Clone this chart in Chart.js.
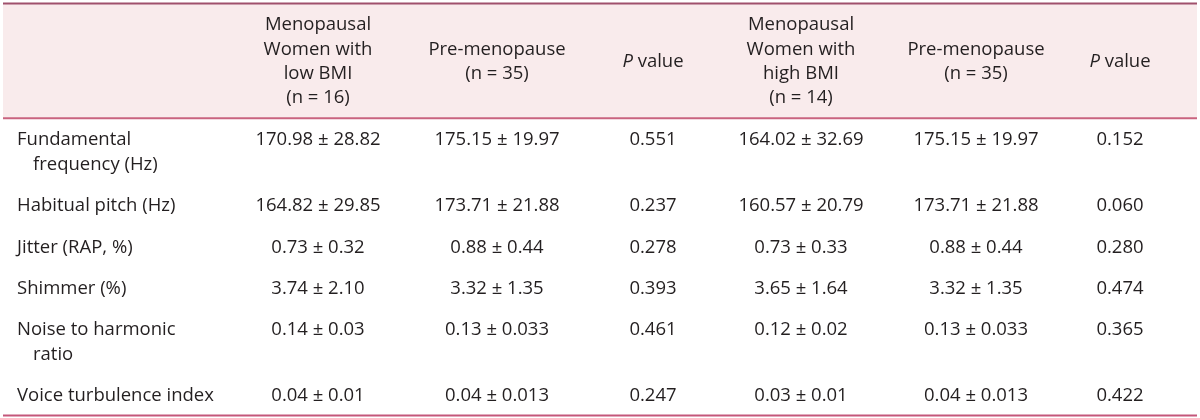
<!DOCTYPE html>
<html>
<head>
<meta charset="utf-8">
<script src="https://cdn.jsdelivr.net/npm/chart.js@4.4.1/dist/chart.umd.min.js"></script>
<style>
  html, body { margin: 0; padding: 0; background: #fff; }
  #wrap { width: 1200px; height: 418px; }
</style>
</head>
<body>
<div id="wrap"><canvas id="voiceTable" width="1200" height="418"></canvas></div>
<script>
/* ==========================
   TABLE CONTENT
========================== */
const columnHeads = [
  [],
  ["Menopausal", "Women with", "low BMI", "(n = 16)"],
  ["Pre-menopause", "(n = 35)"],
  ["P value"],
  ["Menopausal", "Women with", "high BMI", "(n = 14)"],
  ["Pre-menopause", "(n = 35)"],
  ["P value"]
];

const rowLabels = [
  ["Fundamental", "frequency (Hz)"],
  ["Habitual pitch (Hz)"],
  ["Jitter (RAP, %)"],
  ["Shimmer (%)"],
  ["Noise to harmonic", "ratio"],
  ["Voice turbulence index"]
];

const lowBmiMean = ["170.98", "164.82", "0.73", "3.74", "0.14", "0.04"];
const lowBmiSd   = ["28.82", "29.85", "0.32", "2.10", "0.03", "0.01"];
const preMean    = ["175.15", "173.71", "0.88", "3.32", "0.13", "0.04"];
const preSd      = ["19.97", "21.88", "0.44", "1.35", "0.033", "0.013"];
const pLowBmi    = ["0.551", "0.237", "0.278", "0.393", "0.461", "0.247"];
const highBmiMean = ["164.02", "160.57", "0.73", "3.65", "0.12", "0.03"];
const highBmiSd   = ["32.69", "20.79", "0.33", "1.64", "0.02", "0.01"];
const pHighBmi   = ["0.152", "0.060", "0.280", "0.474", "0.365", "0.422"];

/* ==========================
   LAYOUT / STYLE
========================== */
const W = 1200, H = 418;
const FONT_FAMILY = '"Open Sans", "Noto Sans", sans-serif';
const FONT_SIZE = 18.5;
const HEAD_LINE = 24.3;     // header line height
const LINE = 24.8;          // body line height
const TABLE_LEFT = 3, TABLE_RIGHT = 1197;
const colWidths = [227, 176, 182, 130, 166, 184, 104];
const TOP_RULE = 3.5;
const PAD_TOP = 9.5, PAD_BOTTOM = 8;
const ROW_PAD_TOP = 9.5, ROW_PAD_BOTTOM = 7;
const LABEL_INSET = 14, HANG_INDENT = 16;
const TEXT = '#231f20';

// column centres from the widths
const colCenters = [];
let acc = TABLE_LEFT;
colWidths.forEach(w => { colCenters.push(acc + w / 2); acc += w; });

// header height from the tallest header
const headLines = Math.max(...columnHeads.map(h => h.length));
const headBottom = TOP_RULE + PAD_TOP + headLines * HEAD_LINE + PAD_BOTTOM;
const headMid = TOP_RULE + PAD_TOP + headLines * HEAD_LINE / 2;

// first-line centre of each body row
const rowY = [];
let yAcc = headBottom;
rowLabels.forEach(lines => {
  rowY.push(yAcc + ROW_PAD_TOP + LINE / 2);
  yAcc += ROW_PAD_TOP + ROW_PAD_BOTTOM + lines.length * LINE;
});
const tableBottom = yAcc;

const pm = (m, s) => m.map((v, i) => `${v} ± ${s[i]}`);
const bodyColumns = [
  pm(lowBmiMean, lowBmiSd),
  pm(preMean, preSd),
  pLowBmi,
  pm(highBmiMean, highBmiSd),
  pm(preMean, preSd),
  pHighBmi
];

const datasets = bodyColumns.map((cells, c) => ({
  label: 'col' + (c + 1),
  cells: cells,
  data: cells.map((_, r) => ({ x: colCenters[c + 1], y: rowY[r] })),
  pointRadius: 0,
  showLine: false
}));

/* ==========================
   DRAW THE TABLE
========================== */
function font(style) {
  return `${style || ''} ${FONT_SIZE}px ${FONT_FAMILY}`;
}

function drawPValue(ctx, cx, cy) {
  ctx.font = font('italic');
  const wp = ctx.measureText('P').width;
  ctx.font = font();
  const wr = ctx.measureText(' value').width;
  const x0 = cx - (wp + wr) / 2;
  ctx.textAlign = 'left';
  ctx.font = font('italic');
  ctx.fillText('P', x0, cy);
  ctx.font = font();
  ctx.fillText(' value', x0 + wp, cy);
}

const tablePlugin = {
  id: 'tablePlugin',
  beforeDatasetsDraw(chart) {
    const ctx = chart.ctx;
    const xs = chart.scales.x, ys = chart.scales.y;
    const left = xs.getPixelForValue(TABLE_LEFT);
    const right = xs.getPixelForValue(TABLE_RIGHT);
    const top = ys.getPixelForValue(TOP_RULE);
    const hb = ys.getPixelForValue(headBottom);
    const bottom = ys.getPixelForValue(tableBottom);

    ctx.save();
    ctx.fillStyle = '#f9ebec';
    ctx.fillRect(left, top, right - left, hb - top);

    ctx.lineWidth = 2;
    ctx.strokeStyle = '#a0506c';
    ctx.beginPath(); ctx.moveTo(left, top); ctx.lineTo(right, top); ctx.stroke();
    ctx.strokeStyle = '#c9637f';
    ctx.beginPath(); ctx.moveTo(left, hb); ctx.lineTo(right, hb); ctx.stroke();
    ctx.strokeStyle = '#c4567a';
    ctx.beginPath(); ctx.moveTo(left, bottom); ctx.lineTo(right, bottom); ctx.stroke();

    // header
    ctx.fillStyle = TEXT;
    ctx.textBaseline = 'middle';
    columnHeads.forEach((lines, c) => {
      const cx = xs.getPixelForValue(colCenters[c]);
      lines.forEach((txt, i) => {
        const cy = ys.getPixelForValue(headMid + (i - (lines.length - 1) / 2) * HEAD_LINE);
        if (txt === 'P value') {
          drawPValue(ctx, cx, cy);
        } else {
          ctx.font = font();
          ctx.textAlign = 'center';
          ctx.fillText(txt, cx, cy);
        }
      });
    });

    // row labels
    ctx.font = font();
    ctx.textAlign = 'left';
    rowLabels.forEach((lines, r) => {
      lines.forEach((txt, i) => {
        const x = xs.getPixelForValue(TABLE_LEFT + LABEL_INSET + (i > 0 ? HANG_INDENT : 0));
        const y = ys.getPixelForValue(rowY[r] + i * LINE);
        ctx.fillText(txt, x, y);
      });
    });
    ctx.restore();
  },
  afterDatasetsDraw(chart) {
    const ctx = chart.ctx;
    ctx.save();
    ctx.fillStyle = TEXT;
    ctx.font = font();
    ctx.textAlign = 'center';
    ctx.textBaseline = 'middle';
    chart.data.datasets.forEach((ds, i) => {
      chart.getDatasetMeta(i).data.forEach((pt, r) => {
        ctx.fillText(ds.cells[r], pt.x, pt.y);
      });
    });
    ctx.restore();
  }
};

new Chart(document.getElementById('voiceTable').getContext('2d'), {
  type: 'scatter',
  data: { datasets: datasets },
  options: {
    responsive: false,
    devicePixelRatio: 1,
    animation: false,
    layout: { padding: 0 },
    plugins: { legend: { display: false }, tooltip: { enabled: false } },
    scales: {
      x: { type: 'linear', min: 0, max: W, display: false },
      y: { type: 'linear', min: 0, max: H, reverse: true, display: false }
    }
  },
  plugins: [tablePlugin]
});
</script>
</body>
</html>
